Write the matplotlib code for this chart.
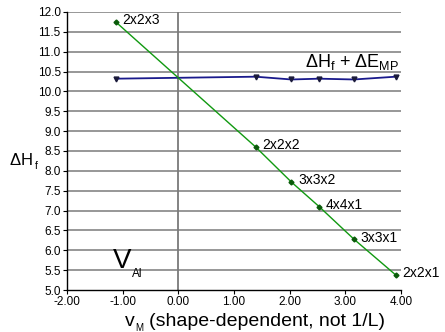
import matplotlib
matplotlib.use("Agg")
import matplotlib.pyplot as plt

plt.rcParams['font.family'] = ['Liberation Sans', 'DejaVu Sans']
plt.rcParams['mathtext.fontset'] = 'custom'
plt.rcParams['mathtext.rm'] = 'Liberation Sans'
plt.rcParams['mathtext.it'] = 'Liberation Sans'

# cell shapes (green line = delta H_f)
cells = ['2x2x3', '2x2x2', '3x3x2', '4x4x1', '3x3x1', '2x2x1']
v_m = [-1.125, 1.39, 2.03, 2.53, 3.155, 3.905]
dh_f = [11.75, 8.60, 7.72, 7.10, 6.28, 5.38]
# delta H_f + delta E_MP (blue line)
dh_mp = [10.32, 10.37, 10.30, 10.32, 10.30, 10.37]

fig = plt.figure(figsize=(4.45, 3.32), dpi=100)
ax = fig.add_axes([0.1506, 0.1265, 0.7504, 0.8375])

for y in [5.5 + 0.5 * i for i in range(14)]:
    ax.axhline(y, color='#8f8f8f', lw=1.3, zorder=1)
ax.axvline(0, color='#7a7a7a', lw=1.3, zorder=1)

ax.plot(v_m, dh_mp, color='#1a1a8c', lw=1.3, marker='v', ms=3.5,
        mfc='#1a1a3a', mec='#1a1a3a', zorder=3)
ax.plot(v_m, dh_f, color='#119911', lw=1.0, marker='D', ms=2.5,
        mfc='#0a5a0a', mec='#0a5a0a', zorder=3)

for name, x, y in zip(cells, v_m, dh_f):
    ax.text(x + 0.12, y + 0.04, name, fontsize=10, ha='left', va='center')

ax.text(2.27, 10.61, r'$\Delta$H$_{\mathregular{f}}$ + $\Delta$E$_{\mathregular{MP}}$',
        fontsize=13, ha='left', va='baseline')
ax.text(-1.17, 5.55, 'V', fontsize=20, ha='left', va='baseline')
ax.text(-0.83, 5.33, 'Al', fontsize=8.5, ha='left', va='baseline')

ax.set_xlim(-2, 4)
ax.set_ylim(5, 12)
ax.set_xticks([-2, -1, 0, 1, 2, 3, 4])
ax.set_xticklabels(['%.2f' % t for t in [-2, -1, 0, 1, 2, 3, 4]])
ax.set_yticks([5 + 0.5 * i for i in range(15)])
ax.set_yticklabels(['%.1f' % (5 + 0.5 * i) for i in range(15)])
ax.tick_params(labelsize=8.5, length=3, width=0.8, pad=1.5)
ax.spines['top'].set_visible(False)
ax.spines['right'].set_visible(False)
ax.spines['left'].set_linewidth(1.0)
ax.spines['bottom'].set_linewidth(1.0)

fig.text(0.02, 0.518, r'$\Delta$H', fontsize=12, ha='left', va='center')
fig.text(0.078, 0.5, 'f', fontsize=7.5, ha='left', va='center')
fig.text(0.281, 0.018, 'v', fontsize=14, ha='left', va='baseline')
fig.text(0.303, 0.002, 'M', fontsize=7, ha='left', va='baseline')
fig.text(0.335, 0.018, '(shape-dependent, not 1/L)', fontsize=14, ha='left', va='baseline')

fig.savefig('out.png', dpi=100)
